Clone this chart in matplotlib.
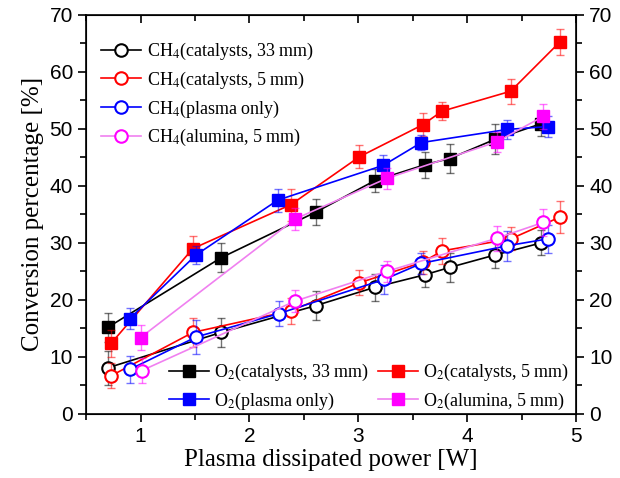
import matplotlib
matplotlib.use("Agg")
import matplotlib.pyplot as plt
from matplotlib.ticker import MultipleLocator

plt.rcParams['mathtext.fontset'] = 'stix'

# O2 conversion (filled squares)
x_o2_cat33 = [0.70, 1.74, 2.61, 3.15, 3.61, 3.84, 4.26, 4.68]
y_o2_cat33 = [15.2, 27.4, 35.4, 40.9, 43.7, 44.8, 48.2, 50.9]
e_o2_cat33 = [2.5, 2.5, 2.3, 2.0, 2.3, 2.5, 2.6, 2.2]

x_o2_cat5 = [0.73, 1.48, 2.38, 3.01, 3.59, 3.77, 4.40, 4.85]
y_o2_cat5 = [12.4, 29.0, 36.7, 45.1, 50.7, 53.1, 56.6, 65.2]
e_o2_cat5 = [2.4, 2.2, 2.8, 2.0, 2.0, 1.6, 2.2, 2.3]

x_o2_plasma = [0.90, 1.51, 2.26, 3.23, 3.58, 4.37, 4.74]
y_o2_plasma = [16.7, 27.9, 37.5, 43.6, 47.6, 49.9, 50.4]
e_o2_plasma = [1.8, 1.6, 2.0, 1.8, 1.3, 1.6, 1.8]

x_o2_alum = [1.00, 2.42, 3.26, 4.27, 4.70]
y_o2_alum = [13.4, 34.2, 41.3, 47.7, 52.2]
e_o2_alum = [2.2, 2.0, 1.8, 1.8, 2.2]

# CH4 conversion (open circles)
x_ch4_cat33 = [0.70, 1.74, 2.61, 3.15, 3.61, 3.84, 4.26, 4.68]
y_ch4_cat33 = [8.1, 14.3, 19.0, 22.2, 24.4, 25.7, 27.9, 30.0]
e_ch4_cat33 = [3.0, 2.6, 2.5, 2.4, 2.2, 2.5, 2.3, 2.2]

x_ch4_cat5 = [0.73, 1.48, 2.38, 3.01, 3.59, 3.77, 4.40, 4.85]
y_ch4_cat5 = [6.7, 14.3, 18.1, 23.0, 26.6, 28.6, 30.7, 34.5]
e_ch4_cat5 = [2.2, 2.6, 2.3, 2.2, 2.0, 2.3, 2.0, 2.8]

x_ch4_plasma = [0.90, 1.51, 2.27, 3.24, 3.58, 4.37, 4.74]
y_ch4_plasma = [7.8, 13.5, 17.6, 23.6, 26.4, 29.5, 30.7]
e_ch4_plasma = [2.3, 3.0, 2.2, 2.5, 1.8, 2.6, 2.4]

x_ch4_alum = [1.01, 2.42, 3.26, 4.27, 4.70]
y_ch4_alum = [7.6, 19.8, 25.0, 30.8, 33.6]
e_ch4_alum = [2.2, 2.0, 1.8, 2.2, 2.4]

labels = ["(catalysts, 33 mm)", "(catalysts, 5 mm)", "(plasma only)", "(alumina, 5 mm)"]
colors = ["black", "#ff0000", "#0000ff", "#ff00ff"]
line_colors = ["black", "#ff0000", "#0000ff", "#f080f0"]

o2 = [(x_o2_cat33, y_o2_cat33, e_o2_cat33), (x_o2_cat5, y_o2_cat5, e_o2_cat5),
      (x_o2_plasma, y_o2_plasma, e_o2_plasma), (x_o2_alum, y_o2_alum, e_o2_alum)]
ch4 = [(x_ch4_cat33, y_ch4_cat33, e_ch4_cat33), (x_ch4_cat5, y_ch4_cat5, e_ch4_cat5),
       (x_ch4_plasma, y_ch4_plasma, e_ch4_plasma), (x_ch4_alum, y_ch4_alum, e_ch4_alum)]

fig = plt.figure(figsize=(6.2, 4.78), dpi=100)
ax = fig.add_axes([0.139, 0.134, 0.790, 0.835])

ch4_handles = []
o2_handles = []
for i in range(4):
    x, y, e = o2[i]
    ax.errorbar(x, y, yerr=e, fmt='none', ecolor=colors[i], alpha=0.55,
                elinewidth=1, capsize=3, capthick=1)
    h, = ax.plot(x, y, '-', color=line_colors[i], lw=1.2, marker='s', ms=8,
                 mfc=colors[i], mec=colors[i], label=r'O$_2$' + labels[i])
    o2_handles.append(h)

    x, y, e = ch4[i]
    ax.errorbar(x, y, yerr=e, fmt='none', ecolor=colors[i], alpha=0.55,
                elinewidth=1, capsize=3, capthick=1)
    h, = ax.plot(x, y, '-', color=line_colors[i], lw=1.2, marker='o', ms=9,
                 mfc='white', mec=colors[i], mew=1.5, label=r'CH$_4$' + labels[i])
    ch4_handles.append(h)

ax.set_xlim(0.5, 5)
ax.set_ylim(0, 70)
ax.xaxis.set_major_locator(MultipleLocator(1))
ax.xaxis.set_minor_locator(MultipleLocator(0.5))
ax.yaxis.set_major_locator(MultipleLocator(10))
ax.yaxis.set_minor_locator(MultipleLocator(5))
ax.tick_params(which='both', direction='out', labelsize=15, width=1.2,
               labelfontfamily='Liberation Sans')
ax.tick_params(which='major', length=6)
ax.tick_params(which='minor', length=4)
ax.tick_params(axis='x', which='both', top=True, labeltop=False)
for sp in ax.spines.values():
    sp.set_linewidth(1.2)

# top ticks point inward
for t in ax.xaxis.get_major_ticks() + ax.xaxis.get_minor_ticks():
    t.tick2line.set_marker(matplotlib.lines.TICKDOWN)

ax2 = ax.twinx()
ax2.set_ylim(0, 70)
ax2.yaxis.set_major_locator(MultipleLocator(10))
ax2.yaxis.set_minor_locator(MultipleLocator(5))
ax2.tick_params(which='both', direction='out', labelsize=15, width=1.2,
                labelfontfamily='Liberation Sans')
ax2.tick_params(which='major', length=6)
ax2.tick_params(which='minor', length=4)

ax.set_xlabel("Plasma dissipated power [W]", fontsize=18, family='Liberation Serif', labelpad=2)
ax.set_ylabel("Conversion percentage [%]", fontsize=18, family='Liberation Serif', labelpad=4)

leg1 = ax.legend(handles=ch4_handles, loc='upper left', bbox_to_anchor=(-0.002, 0.975),
                 frameon=False, prop={'family': 'Liberation Serif', 'size': 13},
                 handlelength=2.2, handletextpad=0.3, labelspacing=0.42)
ax.add_artist(leg1)
order = [o2_handles[0], o2_handles[2], o2_handles[1], o2_handles[3]]
ax.legend(handles=order, ncol=2, loc='lower right', bbox_to_anchor=(1.02, -0.035),
          frameon=False, prop={'family': 'Liberation Serif', 'size': 13},
          handlelength=2.2, handletextpad=0.3, labelspacing=0.42, columnspacing=0.5)

fig.savefig("out.png", dpi=100)
